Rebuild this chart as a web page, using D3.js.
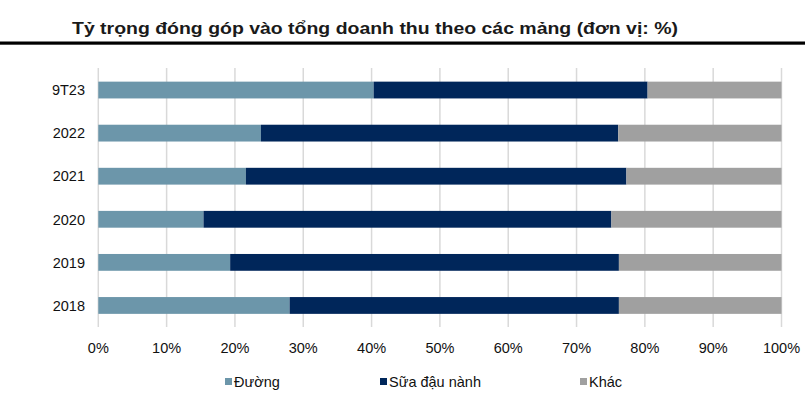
<!DOCTYPE html>
<html><head><meta charset="utf-8">
<script src="https://cdn.jsdelivr.net/npm/d3@7"></script>
<style>body{margin:0;background:#fff}svg{display:block}text{font-family:"Liberation Sans",Arial,sans-serif}</style>
</head><body><svg id="c" width="805" height="399"></svg>
<script>
const categories = ["9T23","2022","2021","2020","2019","2018"];
const seriesNames = ["Đường","Sữa đậu nành","Khác"];
const duong = [40.3, 23.8, 21.6, 15.4, 19.3, 28.0];
const sua   = [40.1, 52.3, 55.7, 59.7, 56.9, 48.2];
const khac  = [19.6, 23.9, 22.7, 24.9, 23.8, 23.8];
const xTicks = [0,10,20,30,40,50,60,70,80,90,100];
const colors = ["#6c96aa","#00265a","#a0a0a0"];
const title = "Tỷ trọng đóng góp vào tổng doanh thu theo các mảng (đơn vị: %)";

const svg = d3.select("#c");
const x = d3.scaleLinear().domain([0,100]).range([98.3,781.5]);
const y = d3.scaleBand().domain(categories).range([68.5,327]).paddingInner(0.61).paddingOuter(0.305);

// title
svg.append("text").attr("x",72).attr("y",34).attr("font-size",16.5).attr("font-weight","bold")
  .attr("fill","#1a1a1a").attr("textLength",606).attr("lengthAdjust","spacingAndGlyphs").text(title);
svg.append("rect").attr("x",0).attr("y",41.5).attr("width",805).attr("height",3.2).attr("fill","#000");

// gridlines
svg.append("g").selectAll("line").data(xTicks).join("line")
  .attr("x1",d=>x(d)).attr("x2",d=>x(d)).attr("y1",68).attr("y2",327)
  .attr("stroke","#d9d9d9").attr("stroke-width",1.5);

// stacked bars
const rows = categories.map((c,i)=>({cat:c, "Đường":duong[i], "Sữa đậu nành":sua[i], "Khác":khac[i]}));
const stack = d3.stack().keys(seriesNames)(rows);
svg.append("g").selectAll("g").data(stack).join("g").attr("fill",(d,i)=>colors[i])
  .selectAll("rect").data(d=>d).join("rect")
  .attr("x",d=>x(d[0])).attr("width",d=>x(d[1])-x(d[0]))
  .attr("y",d=>y(d.data.cat)).attr("height",y.bandwidth());

// y labels
svg.append("g").selectAll("text").data(categories).join("text")
  .attr("x",85).attr("y",d=>y(d)+y.bandwidth()/2).attr("dy","0.36em")
  .attr("text-anchor","end").attr("font-size",14.5).attr("fill","#111").text(d=>d);

// x labels
svg.append("g").selectAll("text").data(xTicks).join("text")
  .attr("x",d=>x(d)).attr("y",353).attr("text-anchor","middle")
  .attr("font-size",14.5).attr("fill","#111").text(d=>d+"%");

// legend
const legX = [225,380,580];
const lg = svg.append("g").selectAll("g").data(seriesNames).join("g")
  .attr("transform",(d,i)=>`translate(${legX[i]},0)`);
lg.append("rect").attr("x",0).attr("y",378).attr("width",7).attr("height",7).attr("fill",(d,i)=>colors[i]);
lg.append("text").attr("x",9).attr("y",387).attr("font-size",14.5).attr("fill","#111").text(d=>d);
</script></body></html>
